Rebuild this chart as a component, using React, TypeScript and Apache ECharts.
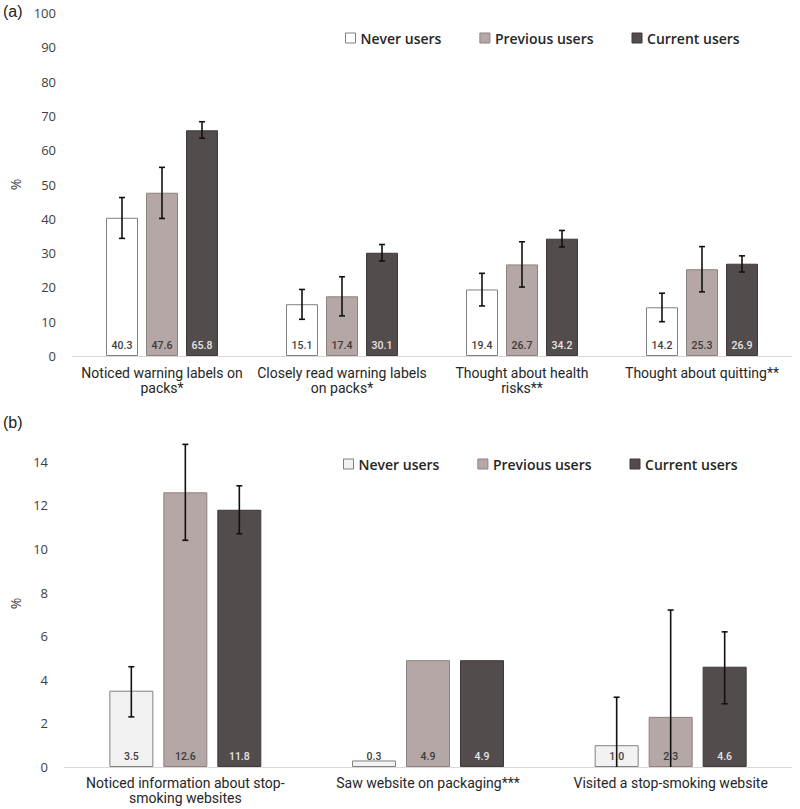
import React, { useEffect, useRef } from "react";
import * as echarts from "echarts";

// ---------- Panel (a) ----------
const categoriesA = [
  "Noticed warning labels on\npacks*",
  "Closely read warning labels\non packs*",
  "Thought about health\nrisks**",
  "Thought about quitting**",
];
const neverA = [40.3, 15.1, 19.4, 14.2];
const previousA = [47.6, 17.4, 26.7, 25.3];
const currentA = [65.8, 30.1, 34.2, 26.9];
// confidence intervals [low, high]
const neverCIA = [[34.3, 46.2], [10.7, 19.4], [14.6, 24.1], [10.0, 18.3]];
const previousCIA = [[40.1, 55.0], [11.7, 23.1], [20.1, 33.3], [18.7, 31.9]];
const currentCIA = [[63.5, 68.3], [27.7, 32.5], [31.8, 36.6], [24.5, 29.2]];
const ticksA = { min: 0, max: 100, interval: 10 };

// ---------- Panel (b) ----------
const categoriesB = [
  "Noticed information about stop-\nsmoking websites",
  "Saw website on packaging***",
  "Visited a stop-smoking website",
];
const neverB = [3.5, 0.3, 1.0];
const previousB = [12.6, 4.9, 2.3];
const currentB = [11.8, 4.9, 4.6];
const neverCIB: (number[] | null)[] = [[2.3, 4.6], null, [-1.2, 3.2]];
const previousCIB: (number[] | null)[] = [[10.4, 14.8], null, [-2.6, 7.2]];
const currentCIB: (number[] | null)[] = [[10.7, 12.9], null, [2.9, 6.2]];
const ticksB = { min: 0, max: 15, interval: 2 };

const groupNames = ["Never users", "Previous users", "Current users"];

const FONT_NUM = '"Open Sans", sans-serif';
const FONT_CAT = 'Roboto, sans-serif';

function buildErrorData(cis: (number[] | null)[][]) {
  const rows: number[][] = [];
  cis.forEach((group, gi) => {
    group.forEach((ci, ci_i) => {
      if (ci) rows.push([ci_i, ci[0], ci[1], gi]);
    });
  });
  return rows;
}

function makeErrorRender(spacing: number) {
  return (params: any, api: any) => {
    const cat = api.value(0);
    const lo = api.value(1);
    const hi = api.value(2);
    const gi = api.value(3);
    const x = api.coord([cat, 0])[0] + (gi - 1) * spacing;
    const yLo = api.coord([cat, Math.max(lo, 0)])[1];
    const yHi = api.coord([cat, hi])[1];
    const style = { stroke: "#111111", lineWidth: 1.6 };
    const half = 3;
    const children: any[] = [
      { type: "line", shape: { x1: x, y1: yHi, x2: x, y2: yLo }, style },
      { type: "line", shape: { x1: x - half, y1: yHi, x2: x + half, y2: yHi }, style },
    ];
    if (lo >= 0) {
      children.push({ type: "line", shape: { x1: x - half, y1: yLo, x2: x + half, y2: yLo }, style });
    }
    return { type: "group", children };
  };
}

const colorsA = [
  { color: "#ffffff", borderColor: "#808080", label: "#404040" },
  { color: "#b4a7a5", borderColor: "#8c8282", label: "#3a3a3a" },
  { color: "#534c4d", borderColor: "#3d3939", label: "#e6e6e6" },
];
const colorsB = [
  { color: "#f2f2f2", borderColor: "#808080", label: "#404040" },
  { color: "#b4a7a5", borderColor: "#8c8282", label: "#3a3a3a" },
  { color: "#534c4d", borderColor: "#3d3939", label: "#e6e6e6" },
];

function barSeries(
  data: number[],
  gi: number,
  axisIndex: number,
  colors: typeof colorsA,
  barWidth: number,
  barGap: string
) {
  return {
    type: "bar",
    name: groupNames[gi],
    xAxisIndex: axisIndex,
    yAxisIndex: axisIndex,
    data,
    barWidth,
    barGap,
    itemStyle: { color: colors[gi].color, borderColor: colors[gi].borderColor, borderWidth: 1 },
    label: {
      show: true,
      position: "insideBottom",
      distance: 5,
      fontSize: 10.5,
      fontFamily: FONT_CAT,
      fontWeight: 500,
      color: colors[gi].label,
      formatter: (p: any) => p.value.toFixed(1),
    },
    emphasis: { disabled: true },
    z: 2,
  };
}

function legendCfg(left: number, top: number, colors: typeof colorsA) {
  return {
    left,
    top,
    orient: "horizontal",
    icon: "rect",
    itemWidth: 10,
    itemHeight: 10,
    itemGap: 38,
    selectedMode: false,
    textStyle: {
      fontFamily: FONT_NUM,
      fontSize: 14,
      fontWeight: 600,
      color: "#262626",
      padding: [0, 0, 0, 0],
      lineHeight: 14,
    },
    data: groupNames.map((n, i) => ({
      name: n,
      itemStyle: { color: colors[i].color, borderColor: colors[i].borderColor, borderWidth: 1 },
    })),
  };
}

const yAxisCommon = {
  type: "value",
  axisLine: { show: false },
  axisTick: { show: false },
  splitLine: { show: false },
  name: "%",
  nameLocation: "middle",
  nameRotate: 90,
  nameTextStyle: { fontFamily: FONT_NUM, fontSize: 14, color: "#404040" },
};

const xAxisCommon = {
  type: "category",
  axisLine: { show: true, lineStyle: { color: "#d9d9d9", width: 1 } },
  axisTick: { show: false },
  splitLine: { show: false },
};

export default function App() {
  const ref = useRef<HTMLDivElement>(null);
  useEffect(() => {
    const chart = echarts.init(ref.current!, null, { renderer: "svg" });
    const option: any = {
      animation: false,
      backgroundColor: "#ffffff",
      legend: [legendCfg(340, 26, colorsA), legendCfg(338, 452, colorsB)],
      graphic: [
        { type: "text", left: 3, top: 3, style: { text: "(a)", font: '16px "Liberation Sans", Arial, sans-serif', fill: "#222222" } },
        { type: "text", left: 3, top: 414, style: { text: "(b)", font: '16px "Liberation Sans", Arial, sans-serif', fill: "#222222" } },
      ],
      grid: [
        { left: 65, right: 8, top: 13, height: 343 },
        { left: 57, right: 8, top: 440, height: 327 },
      ],
      xAxis: [
        {
          ...xAxisCommon,
          gridIndex: 0,
          data: categoriesA,
          axisLabel: { interval: 0, margin: 9, fontFamily: FONT_CAT, fontSize: 14, lineHeight: 15, color: "#262626" },
        },
        {
          ...xAxisCommon,
          gridIndex: 1,
          data: categoriesB,
          axisLabel: { interval: 0, margin: 8, fontFamily: FONT_CAT, fontSize: 14, lineHeight: 15, color: "#262626" },
        },
      ],
      yAxis: [
        {
          ...yAxisCommon,
          gridIndex: 0,
          ...ticksA,
          nameGap: 50,
          axisLabel: { margin: 16, fontFamily: FONT_NUM, fontSize: 13, color: "#404040" },
        },
        {
          ...yAxisCommon,
          gridIndex: 1,
          ...ticksB,
          nameGap: 42,
          axisLabel: { margin: 16, fontFamily: FONT_NUM, fontSize: 13, color: "#404040", showMaxLabel: false },
        },
      ],
      series: [
        barSeries(neverA, 0, 0, colorsA, 32, "25%"),
        barSeries(previousA, 1, 0, colorsA, 32, "25%"),
        barSeries(currentA, 2, 0, colorsA, 32, "25%"),
        {
          type: "custom",
          xAxisIndex: 0,
          yAxisIndex: 0,
          data: buildErrorData([neverCIA, previousCIA, currentCIA]),
          encode: { x: 0, y: [1, 2] },
          renderItem: makeErrorRender(40),
          silent: true,
          z: 5,
        },
        barSeries(neverB, 0, 1, colorsB, 44, "22.7%"),
        barSeries(previousB, 1, 1, colorsB, 44, "22.7%"),
        barSeries(currentB, 2, 1, colorsB, 44, "22.7%"),
        {
          type: "custom",
          xAxisIndex: 1,
          yAxisIndex: 1,
          data: buildErrorData([neverCIB, previousCIB, currentCIB]),
          encode: { x: 0, y: [1, 2] },
          renderItem: makeErrorRender(54),
          silent: true,
          z: 5,
        },
      ],
    };
    chart.setOption(option);
    return () => chart.dispose();
  }, []);
  return (
    <div
      ref={ref}
      style={{ position: "absolute", left: 0, top: 0, width: 800, height: 809, background: "#ffffff" }}
    />
  );
}
